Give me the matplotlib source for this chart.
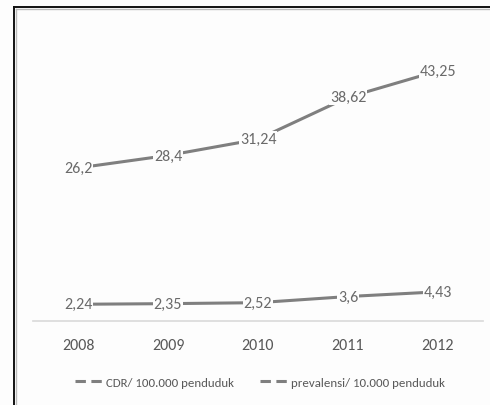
import matplotlib
matplotlib.use("Agg")
import matplotlib.pyplot as plt
from matplotlib.lines import Line2D

years = ["2008", "2009", "2010", "2011", "2012"]
cdr = [26.2, 28.4, 31.24, 38.62, 43.25]
prevalensi = [2.24, 2.35, 2.52, 3.6, 4.43]
cdr_labels = ["26,2", "28,4", "31,24", "38,62", "43,25"]
prev_labels = ["2,24", "2,35", "2,52", "3,6", "4,43"]
series_names = ["CDR/ 100.000 penduduk", "prevalensi/ 10.000 penduduk"]

FONT = ["Carlito", "DejaVu Sans"]
plt.rcParams["font.family"] = FONT

W, H = 490, 406
fig = plt.figure(figsize=(W / 100, H / 100), dpi=100)
fig.patch.set_facecolor("#fdfdfd")

ax = fig.add_axes([33 / W, (H - 322) / H, (483 - 33) / W, 288.5 / H])
ax.set_facecolor("none")
x = list(range(len(years)))
line_c = "#7f7f7f"
text_c = "#6a6a6a"

for vals, labs in [(cdr, cdr_labels), (prevalensi, prev_labels)]:
    ax.plot(x, vals, color=line_c, lw=2.2, solid_capstyle="butt", zorder=2)
    for xi, v, lab in zip(x, vals, labs):
        ax.text(xi, v, lab, ha="center", va="center", fontsize=11.5, color=text_c,
                bbox=dict(boxstyle="square,pad=0.05", fc="#fdfdfd", ec="none"), zorder=3)

ax.set_xlim(-0.5, len(years) - 0.5)
ax.set_ylim(-0.7, 50)
ax.set_xticks(x)
ax.set_xticklabels(years, fontsize=11.5, color="#595959")
ax.tick_params(axis="x", length=0, pad=12)
ax.set_yticks([])
for s in ["left", "right", "top"]:
    ax.spines[s].set_visible(False)
ax.spines["bottom"].set_color("#d9d9d9")
ax.spines["bottom"].set_linewidth(1.2)
ax.spines["bottom"].set_zorder(1)

handles = [Line2D([0], [0], color=line_c, lw=2.2, linestyle=(0, (3.4, 1.8)),
                  dash_capstyle="butt") for _ in series_names]
fig.legend(handles, series_names, loc="center", bbox_to_anchor=(260 / W, (H - 383) / H),
           ncol=2, frameon=False, fontsize=9.3, labelcolor="#595959",
           handlelength=2.2, handletextpad=0.2, columnspacing=2.0)

# outer frame (left and top edges)
fig.add_artist(Line2D([13.5 / W, 13.5 / W], [0, 1 - 7.5 / H], transform=fig.transFigure, color="#111111", lw=1.4))
fig.add_artist(Line2D([15.5 / W, 15.5 / W], [0, 1 - 9.5 / H], transform=fig.transFigure, color="#bbbbbb", lw=1.0))
fig.add_artist(Line2D([13.5 / W, 1], [1 - 7.5 / H, 1 - 7.5 / H], transform=fig.transFigure, color="#111111", lw=1.4))
fig.add_artist(Line2D([15.5 / W, 1], [1 - 9.5 / H, 1 - 9.5 / H], transform=fig.transFigure, color="#bbbbbb", lw=1.0))

fig.savefig("out.png", dpi=100, facecolor=fig.get_facecolor())
